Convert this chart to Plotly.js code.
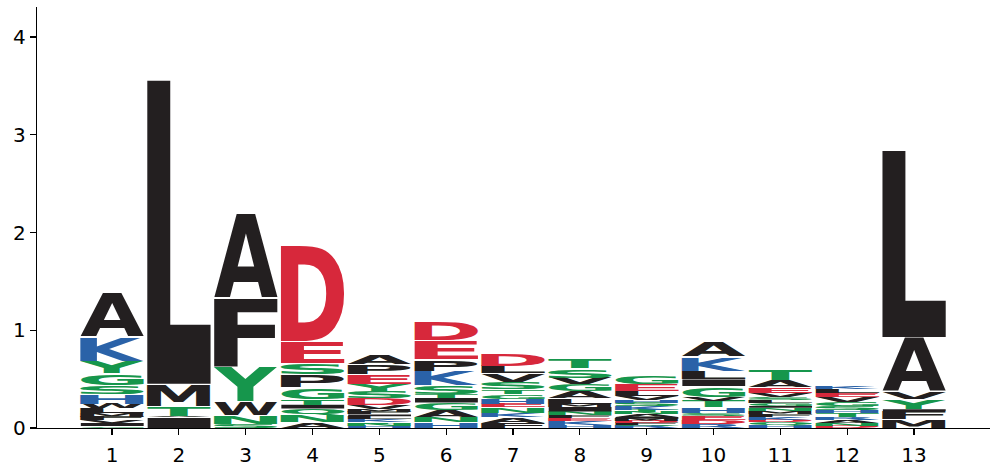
<!DOCTYPE html>
<html><head><meta charset="utf-8">
<script src="https://cdn.plot.ly/plotly-3.0.1.min.js"></script>
<style>html,body{margin:0;padding:0;background:#fff}#chart{width:992px;height:472px}</style>
</head><body><div id="chart"></div>
<script>
// Sequence-logo data: residues listed bottom -> top with their heights (bits)
const positions = [1,2,3,4,5,6,7,8,9,10,11,12,13];
const tickLabels = ['1','2','3','4','5','6','7','8','9','10','11','12','13'];
const yTicks = [0,1,2,3,4];

const res1 = ['C','I','V','F','M','L','W','H','S','G','Y','K','A'];
const h1   = [0.02,0.035,0.025,0.035,0.035,0.05,0.05,0.10,0.09,0.12,0.13,0.245,0.46];
const res2 = ['I','V','T','M','L'];
const h2   = [0.11,0.015,0.10,0.228,3.115];
const res3 = ['S','N','W','Y','F','A'];
const h3   = [0.04,0.09,0.145,0.35,0.70,0.87];
const res4 = ['A','N','Q','I','T','G','P','S','E','D'];
const h4   = [0.06,0.07,0.07,0.04,0.06,0.12,0.13,0.12,0.225,0.98];
const res5 = ['H','N','T','K','L','I','F','M','V','D','S','Y','E','P','A'];
const h5   = [0.024,0.02,0.02,0.025,0.03,0.02,0.025,0.03,0.041,0.072,0.072,0.072,0.102,0.102,0.102];
const res6 = ['H','N','A','G','I','T','S','K','P','E','D'];
const h6   = [0.06,0.05,0.07,0.08,0.05,0.04,0.085,0.15,0.12,0.195,0.19];
const res7 = ['F','A','K','N','E','H','G','T','S','V','L','D'];
const h7   = [0.05,0.06,0.04,0.06,0.04,0.05,0.05,0.046,0.077,0.085,0.078,0.123];
const res8 = ['H','K','E','F','N','I','M','L','A','G','V','S','T'];
const h8   = [0.03,0.04,0.03,0.03,0.04,0.05,0.03,0.061,0.066,0.072,0.066,0.094,0.107];
const res9 = ['R','Q','F','D','M','I','A','N','T','K','S','H','V','L','E','G'];
const h9   = [0.02,0.015,0.02,0.02,0.02,0.02,0.025,0.02,0.025,0.036,0.036,0.031,0.041,0.051,0.066,0.087];
const res10 = ['R','D','E','S','H','T','V','G','I','L','K','A'];
const h10   = [0.041,0.041,0.041,0.031,0.056,0.066,0.044,0.109,0.072,0.087,0.143,0.158];
const res11 = ['H','Q','D','K','F','M','N','I','G','L','S','V','E','A','T'];
const h11   = [0.031,0.031,0.02,0.031,0.031,0.031,0.031,0.02,0.031,0.031,0.026,0.041,0.063,0.075,0.113];
const res12 = ['D','N','A','R','T','H','S','G','V','E','L','K'];
const h12   = [0.02,0.031,0.031,0.031,0.041,0.031,0.041,0.041,0.051,0.041,0.041,0.031];
const res13 = ['M','F','I','Y','V','A','L'];
const h13   = [0.092,0.082,0.02,0.102,0.072,0.563,1.913];

const residuesByPos = [res1,res2,res3,res4,res5,res6,res7,res8,res9,res10,res11,res12,res13];
const heightsByPos  = [h1,h2,h3,h4,h5,h6,h7,h8,h9,h10,h11,h12,h13];

// colour scheme (style)
const colorGroups = [
  {letters:'HKR', color:'#2a62a8'},
  {letters:'DE', color:'#d7283b'},
  {letters:'GSTYCNQ', color:'#16964c'},
  {letters:'ALMFWVIP', color:'#231f20'}
];
function colorOf(r){ for(const g of colorGroups){ if(g.letters.indexOf(r)>=0) return g.color; } return '#231f20'; }

const gd = document.getElementById('chart');
const axisFont = {family:'DejaVu Sans', size:20, color:'#000'};
const layout = {
  width:992, height:472,
  margin:{l:37, r:2, t:7, b:44},
  paper_bgcolor:'#fff', plot_bgcolor:'#fff',
  showlegend:false,
  xaxis:{range:[-0.122,14.137], tickmode:'array', tickvals:positions, ticktext:tickLabels,
    showgrid:false, zeroline:false, showline:true, linecolor:'#000', linewidth:1.3,
    ticks:'outside', ticklen:6, tickwidth:1.3, tickcolor:'#000', tickfont:axisFont,
    ticklabelstandoff:3, fixedrange:true},
  yaxis:{range:[0,4.307], tickmode:'array', tickvals:yTicks, ticktext:yTicks.map(String),
    showgrid:false, zeroline:false, showline:true, linecolor:'#000', linewidth:1.3,
    ticks:'outside', ticklen:6, tickwidth:1.3, tickcolor:'#000', tickfont:axisFont, fixedrange:true}
};

const FONT_FAMILY = 'DejaVu Sans';
const NS = 'http://www.w3.org/2000/svg';
const ctx = document.createElement('canvas').getContext('2d');
ctx.font = 'bold 100px "' + FONT_FAMILY + '"';
const metricCache = {};
function metrics(ch){
  if(!metricCache[ch]){
    const m = ctx.measureText(ch);
    metricCache[ch] = {l:m.actualBoundingBoxLeft, r:m.actualBoundingBoxRight, a:m.actualBoundingBoxAscent, d:m.actualBoundingBoxDescent};
  }
  return metricCache[ch];
}

function drawLogo(){
  const fl = gd._fullLayout, xa = fl.xaxis, ya = fl.yaxis;
  const svg = gd.querySelector('.main-svg');
  const g = document.createElementNS(NS,'g');
  g.setAttribute('class','logo-letters');
  const glyphWidth = 0.95;
  positions.forEach((pos, i) => {
    const rs = residuesByPos[i], hs = heightsByPos[i];
    let base = 0;
    const xL = xa._offset + xa.l2p(pos - glyphWidth/2);
    const xR = xa._offset + xa.l2p(pos + glyphWidth/2);
    rs.forEach((r, j) => {
      const h = hs[j];
      const yB = ya._offset + ya.l2p(base);
      const yT = ya._offset + ya.l2p(base + h);
      base += h;
      let hp = yB - yT;
      const gap = Math.min(1, hp*0.08);
      const top = yT + gap;
      hp = hp - gap;
      if(hp <= 0) return;
      const m = metrics(r);
      const sx = (xR - xL) / (m.l + m.r);
      const sy = hp / (m.a + m.d);
      const t = document.createElementNS(NS,'text');
      t.setAttribute('x','0'); t.setAttribute('y','0');
      t.setAttribute('font-family', FONT_FAMILY);
      t.setAttribute('font-weight','bold');
      t.setAttribute('font-size','100');
      t.setAttribute('fill', colorOf(r));
      t.setAttribute('transform', 'translate(' + xL + ',' + top + ') scale(' + sx + ',' + sy + ') translate(' + m.l + ',' + m.a + ')');
      t.textContent = r;
      g.appendChild(t);
    });
  });
  svg.appendChild(g);
}

Plotly.newPlot(gd, [], layout, {staticPlot:true, displayModeBar:false}).then(() => {
  if(document.fonts && document.fonts.ready){ document.fonts.ready.then(drawLogo); } else { drawLogo(); }
});
</script>
</body></html>
